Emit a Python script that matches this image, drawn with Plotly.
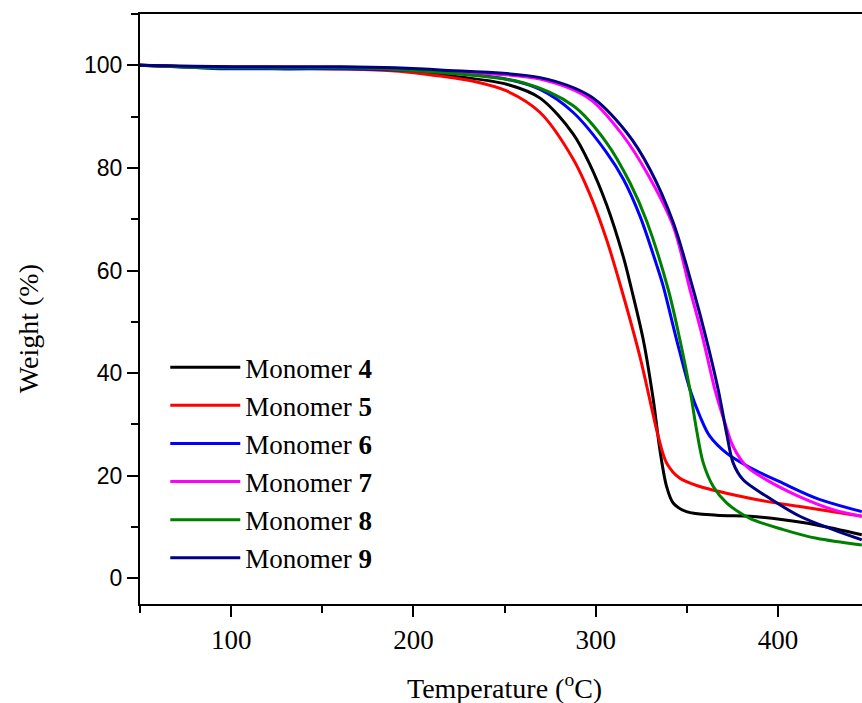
import plotly.graph_objects as go

# Temperature (°C) / Weight (%) readings per monomer
t_m4 = [50, 80, 120, 160, 190, 214.6, 251.2, 269.5, 287.7, 296.9, 306.0, 315.2, 319.7, 326.1, 331.6, 335.2, 338.9, 342.5, 349.8, 366.3, 384.6, 402.9, 421.2, 446]
w_m4 = [100, 99.7, 99.6, 99.5, 99.3, 98.2, 96.3, 93.6, 86.6, 80.6, 72.8, 62.6, 56.3, 46.5, 34.8, 25.1, 17.9, 14.7, 13.0, 12.3, 12.1, 11.4, 10.4, 8.5]

t_m5 = [50, 80, 120, 160, 190, 214.6, 232.9, 251.2, 269.5, 287.7, 296.9, 306.0, 314.2, 324.2, 329.7, 334.3, 338.9, 346.2, 357.2, 375.4, 393.7, 412.0, 430.3, 446]
w_m5 = [100, 99.7, 99.5, 99.3, 98.9, 97.9, 96.9, 95.0, 90.8, 81.7, 74.8, 66.0, 56.3, 43.3, 34.8, 27.7, 22.5, 19.5, 17.9, 16.3, 15.0, 14.0, 13.0, 12.1]

t_m6 = [50, 70, 90, 130, 170, 214.6, 251.2, 269.5, 287.7, 306.0, 315.2, 324.3, 333.5, 337.0, 344.4, 351.7, 357.2, 362.6, 371.8, 384.6, 402.9, 421.2, 446]
w_m6 = [100, 99.7, 99.4, 99.3, 99.3, 98.7, 97.3, 95.3, 90.8, 83.0, 77.8, 70.6, 61.0, 57.0, 46.5, 36.8, 31.6, 27.7, 24.4, 21.6, 18.5, 15.6, 13.0]

t_m7 = [50, 80, 120, 160, 190, 214.6, 269.5, 296.9, 315.2, 328.0, 342.6, 351.7, 359.0, 365.4, 370.9, 375.4, 382.8, 393.7, 412.0, 430.3, 446]
w_m7 = [100, 99.7, 99.6, 99.6, 99.4, 98.9, 97.3, 93.4, 86.2, 79.1, 68.6, 56.3, 46.5, 36.8, 30.3, 25.7, 21.8, 19.2, 15.9, 13.4, 12.1]

t_m8 = [50, 80, 120, 160, 190, 214.6, 260.3, 287.7, 306.0, 318.8, 328.0, 339.8, 346.2, 351.7, 355.3, 359.0, 364.5, 371.8, 384.6, 402.9, 421.2, 446]
w_m8 = [100, 99.6, 99.5, 99.5, 99.2, 98.6, 96.6, 92.1, 84.9, 77.1, 69.6, 56.3, 46.5, 36.8, 29.0, 22.5, 17.9, 14.7, 11.7, 9.5, 7.8, 6.5]

t_m9 = [50, 80, 120, 160, 190, 214.6, 269.5, 296.9, 317.0, 329.8, 342.6, 353.5, 360.8, 367.2, 371.8, 375.4, 380.9, 393.7, 412.0, 430.3, 446]
w_m9 = [100, 99.8, 99.7, 99.7, 99.5, 99.1, 97.6, 94.0, 86.9, 79.7, 69.3, 56.3, 46.5, 36.8, 28.3, 22.5, 19.2, 16.0, 12.1, 9.5, 7.5]

labels = ["4", "5", "6", "7", "8", "9"]
colors = ["#000000", "#FF0000", "#0000FF", "#FF00FF", "#008000", "#000080"]
series = [(t_m4, w_m4), (t_m5, w_m5), (t_m6, w_m6), (t_m7, w_m7), (t_m8, w_m8), (t_m9, w_m9)]

x_ticks = [100, 200, 300, 400]
y_ticks = [0, 20, 40, 60, 80, 100]

SERIF = "Liberation Serif, Times New Roman, serif"
SANS = "Liberation Sans, Arial, sans-serif"

fig = go.Figure()
for lab, col, (t, w) in zip(labels, colors, series):
    fig.add_trace(go.Scatter(
        x=t, y=w, mode="lines", name=f"Monomer <b>{lab}</b>",
        line=dict(color=col, width=3, shape="spline", smoothing=0.9),
    ))

fig.update_layout(
    width=862, height=703,
    margin=dict(l=140, r=0, t=14, b=99),
    plot_bgcolor="white", paper_bgcolor="white",
    legend=dict(
        x=0.035, y=0.442, xanchor="left", yanchor="top",
        font=dict(family=SERIF, size=27, color="black"),
        bgcolor="rgba(0,0,0,0)", itemwidth=70, tracegroupgap=0,
    ),
    annotations=[
        dict(text="Temperature (<sup>o</sup>C)", xref="paper", yref="paper",
             x=0.505, y=-0.14, xanchor="center", yanchor="middle", showarrow=False,
             font=dict(family=SERIF, size=28, color="black")),
        dict(text="Weight (%)", xref="paper", yref="paper", textangle=-90,
             x=-0.155, y=0.466, xanchor="center", yanchor="middle", showarrow=False,
             font=dict(family=SERIF, size=28, color="black")),
    ],
)

fig.update_xaxes(
    range=[50, 446.1], tickvals=x_ticks, ticktext=[str(v) for v in x_ticks],
    showgrid=False, zeroline=False, showline=True, linecolor="black", linewidth=2,
    mirror=True, ticks="outside", ticklen=11, tickwidth=2, tickcolor="black",
    tickfont=dict(family=SERIF, size=27, color="black"),
    minor=dict(tickvals=[50, 150, 250, 350], ticks="outside", ticklen=7, tickwidth=2, tickcolor="black"),
)
fig.update_yaxes(
    range=[-5, 110], tickvals=y_ticks, ticktext=[str(v) for v in y_ticks],
    showgrid=False, zeroline=False, showline=True, linecolor="black", linewidth=2,
    ticks="outside", ticklen=11, tickwidth=2, tickcolor="black",
    tickfont=dict(family=SANS, size=23, color="black"),
    minor=dict(tickvals=[10, 30, 50, 70, 90, 110], ticks="outside", ticklen=7, tickwidth=2, tickcolor="black"),
)

fig.write_html("out.html")
